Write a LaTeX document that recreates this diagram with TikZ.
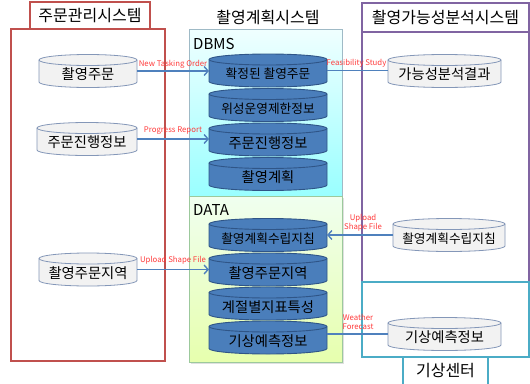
\documentclass[tikz,border=0pt]{standalone}
\usepackage{fontspec}
\setmainfont{Noto Sans CJK KR}
\usetikzlibrary{arrows.meta}
\definecolor{redbox}{HTML}{C0504D}
\definecolor{purplebox}{HTML}{8064A2}
\definecolor{tealbox}{HTML}{4BACC6}
\definecolor{cylblue}{HTML}{4A7EBB}
\definecolor{cylblueedge}{HTML}{2F5587}
\definecolor{cylgray}{HTML}{F2F2F2}
\definecolor{cylgrayedge}{HTML}{8497B8}
\definecolor{linkblue}{HTML}{4F81BD}
\definecolor{lblred}{HTML}{FF3B3B}
\newcommand\dbcyl[7]{% name, x, y, half width, style, font size, text
  \path[#5] ({#2-#4},{#3-11}) -- ({#2-#4},{#3+11})
    arc[start angle=180,end angle=360,x radius=#4pt,y radius=5.5pt]
    -- ({#2+#4},{#3-11})
    arc[start angle=0,end angle=180,x radius=#4pt,y radius=5.5pt] -- cycle;
  \path[#5,fill=none] ({#2-#4},{#3-11})
    arc[start angle=180,end angle=360,x radius=#4pt,y radius=5.5pt];
  \node[cyltext,minimum width={2*#4*1pt}] (#1) at (#2,#3)
    {\fontsize{#6}{#6}\selectfont\raisebox{-3.5pt}[\height][\depth]{#7}};
}
\tikzset{
  cyltext/.style={inner sep=0pt,outer sep=0pt,minimum height=22pt},
  bluecyl/.style={fill=cylblue,draw=cylblueedge,line width=0.9pt,text=white},
  graycyl/.style={fill=cylgray,draw=cylgrayedge,line width=0.8pt,text=black},
  titletext/.style={font=\fontsize{16}{17}\selectfont,inner sep=0pt},
  link/.style={draw=linkblue,line width=1.6pt},
  arrowlink/.style={link,-{Straight Barb[length=4pt,width=9pt,line width=1.4pt]}},
  lbl/.style={text=lblred,font=\fontsize{7.8}{8.8}\selectfont,inner sep=0pt,align=center},
  sectlabel/.style={font=\fontsize{15}{16}\selectfont,inner sep=0pt,anchor=west}
}
\begin{document}
\begin{tikzpicture}[x=1pt,y=-1pt]
\clip (0,0) rectangle (530,383);
\fill[white] (0,0) rectangle (530,383);
% left system
\draw[redbox,line width=1.5pt] (11,29) rectangle (165,361);
\draw[redbox,line width=1.5pt,fill=white] (30,2) rectangle (150,29);
\node[titletext] (tleft) at (90,16) {주문관리시스템};
% centre system
\node[titletext] (tcenter) at (268,17) {촬영계획시스템};
\fill[black!12] (191,198) rectangle (344,364);
\shade[top color=white!85!cyan!40,bottom color=cyan!40!white,draw=cyan!30!gray!70] (189,29) rectangle (342,196);
\shade[top color=green!6!white,bottom color=green!30!yellow!32!white,draw=green!30!gray!60] (189,196) rectangle (342,362);
\node[sectlabel] (ldbms) at (193,44) {DBMS};
\node[sectlabel] (ldata) at (193,210) {DATA};
% right systems
\draw[purplebox,line width=1.5pt] (362,32) rectangle (529,282);
\draw[purplebox,line width=1.5pt] (362,3) rectangle (529,32);
\node[titletext] (tright) at (445.5,17.5) {촬영가능성분석시스템};
\draw[tealbox,line width=1.5pt] (362,282) rectangle (529,357);
\draw[tealbox,line width=1.5pt] (403,357) rectangle (488,395);
\node[titletext] (tweather) at (445.5,371) {기상센터};
% cylinders
\dbcyl{c1}{88}{71}{49}{graycyl}{14.3}{촬영주문}
\dbcyl{c2}{87}{139}{50}{graycyl}{14.3}{주문진행정보}
\dbcyl{c3}{88}{269.5}{49}{graycyl}{14.3}{촬영주문지역}
\dbcyl{d1}{268}{70.5}{59}{bluecyl}{12.7}{확정된 촬영주문}
\dbcyl{d2}{268}{105}{59}{bluecyl}{12.7}{위성운영제한정보}
\dbcyl{d3}{268}{139.5}{59}{bluecyl}{14.3}{주문진행정보}
\dbcyl{d4}{268}{174}{59}{bluecyl}{14.3}{촬영계획}
\dbcyl{e1}{268}{235}{59}{bluecyl}{12.7}{촬영계획수립지침}
\dbcyl{e2}{268}{269.5}{59}{bluecyl}{14.3}{촬영주문지역}
\dbcyl{e3}{268}{303.5}{59}{bluecyl}{14.3}{계절별지표특성}
\dbcyl{e4}{268}{337.5}{59}{bluecyl}{14.3}{기상예측정보}
\dbcyl{r1}{444.5}{71}{56.5}{graycyl}{14.3}{가능성분석결과}
\dbcyl{r2}{449}{235}{56}{graycyl}{12.7}{촬영계획수립지침}
\dbcyl{r3}{444.5}{334}{56.5}{graycyl}{14.3}{기상예측정보}
% connectors
\draw[arrowlink] (c1.east) -- (c1.east -| d1.west);
\draw[arrowlink] (c2.east) -- (c2.east -| d3.west);
\draw[arrowlink] (c3.east) -- (c3.east -| e2.west);
\draw[link] (d1.east) -- (d1.east -| r1.west);
\draw[arrowlink] (r2.west) -- (r2.west -| e1.east);
\draw[link] (r3.west) -- (r3.west -| e4.east);
% labels
\node[lbl] (l1) at (173,64) {New Tasking Order};
\node[lbl] (l2) at (173,131) {Progress Report};
\node[lbl] (l3) at (173,260) {Upload Shape File};
\node[lbl] (l4) at (356.5,63) {Feasibility Study};
\node[lbl] (l5) at (363,223) {Upload\\Shape File};
\node[lbl] (l6) at (358,322) {Weather\\Forecast};
\end{tikzpicture}
\end{document}
